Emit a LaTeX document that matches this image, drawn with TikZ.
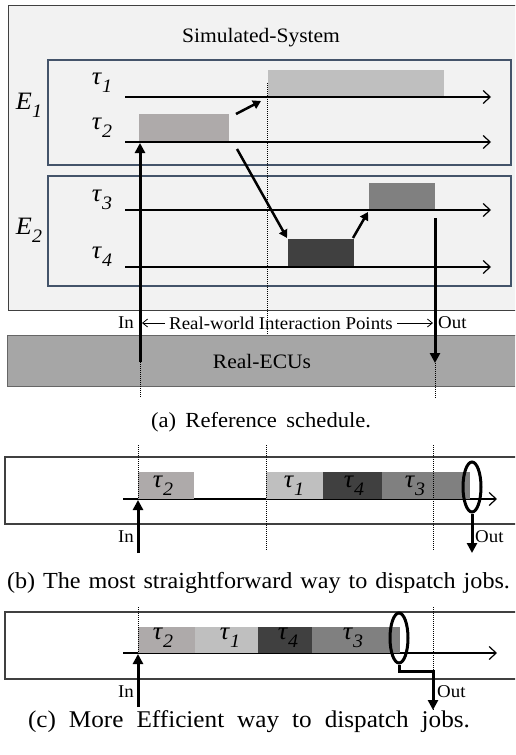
\documentclass[tikz,border=0pt]{standalone}
\usepackage{fontspec}
\setmainfont{Liberation Serif}[FakeStretch=1.05]
\usetikzlibrary{arrows.meta,shapes.geometric}
\definecolor{bgsys}{HTML}{F2F2F2}
\definecolor{eborder}{HTML}{44546A}
\definecolor{ecu}{HTML}{A6A6A6}
\definecolor{cone}{HTML}{BFBFBF}
\definecolor{ctwo}{HTML}{AEAAAA}
\definecolor{cthree}{HTML}{808080}
\definecolor{cfour}{HTML}{404040}
\newcommand{\tl}[2]{\textit{#1}\raisebox{-0.32em}{\fontsize{19}{19}\selectfont\textit{#2}}}
\newcommand{\capbox}[3]{\fontsize{#1}{#1}\selectfont\hbox to #2{\spaceskip=4pt plus 40pt\relax #3}}
\tikzset{
 lbl/.style={font=\fontsize{25}{26}\selectfont, inner sep=0pt},
 txt/.style={font=\fontsize{20.5}{22}\selectfont, inner sep=0pt},
 small/.style={font=\fontsize{18}{20}\selectfont, inner sep=0pt},
 capnode/.style={inner sep=0pt},
 bar/.style={fill=#1, draw=none, inner sep=0pt, anchor=north west},
 tline/.style={line width=1.2pt, -{Straight Barb[length=7pt,width=13pt]}},
 bigarrow/.style={line width=3pt, -{Triangle[length=10pt,width=10pt]}},
 linkarrow/.style={line width=2.5pt, -{Triangle[length=8pt,width=9pt]}},
 rwarrow/.style={line width=0.8pt, -{Straight Barb[length=5pt,width=8pt]}},
 vdots/.style={line width=0.9pt, dash pattern=on 1pt off 1pt},
 ebox/.style={draw=eborder, line width=2pt, fill=bgsys},
 pbox/.style={draw=black!75, line width=1.2pt},
 oval/.style={draw, ellipse, line width=3pt, minimum width=18pt, minimum height=50pt, inner sep=0pt},
}
\begin{document}
\begin{tikzpicture}[x=1pt,y=-1pt]
\useasboundingbox (0,0) rectangle (515,755);
\clip (0,0) rectangle (515,755);
% ---------------- panel (a) ----------------
\draw[fill=bgsys, draw=black!75, line width=1pt] (8,5) rectangle (530,310);
\node[txt] (sys) at (261,38) {Simulated-System};
\draw[ebox] (48,60) rectangle (511,165);
\draw[ebox] (48,176) rectangle (511,286);
\node[lbl] (e1) at (29,105) {\tl{E}{1}};
\node[lbl] (e2) at (29,230) {\tl{E}{2}};
\node[lbl] (l1) at (102,83) {\tl{τ}{1}};
\node[lbl] (l2) at (102,128) {\tl{τ}{2}};
\node[lbl] (l3) at (102,200) {\tl{τ}{3}};
\node[lbl] (l4) at (102,257) {\tl{τ}{4}};
\node[bar=cone, minimum width=176pt, minimum height=27pt] (a1) at (268,70) {};
\node[bar=ctwo, minimum width=90pt, minimum height=28pt] (a2) at (139,114) {};
\node[bar=cthree, minimum width=66pt, minimum height=27pt] (a3) at (369,183) {};
\node[bar=cfour, minimum width=66pt, minimum height=28pt] (a4) at (288,239) {};
\draw[tline] (125,97) -- (491,97);
\draw[tline] (125,142) -- (491,142);
\draw[tline] (125,210) -- (491,210);
\draw[tline] (125,267) -- (491,267);
\draw[vdots] (267.5,83) -- (267.5,336);
\coordinate (k1s) at (236,114); \coordinate (k1e) at (261,101);
\coordinate (k2s) at (237,149); \coordinate (k2e) at (287,238);
\coordinate (k3s) at (353,238); \coordinate (k3e) at (368,212);
\draw[linkarrow] (k1s) -- (k1e);
\draw[linkarrow] (k2s) -- (k2e);
\draw[linkarrow] (k3s) -- (k3e);
\draw[fill=ecu, draw=black!60, line width=1pt] (7,335) rectangle (530,386);
\node[txt] (ecus) at (262,361) {Real-ECUs};
\coordinate (inA) at (140,362); \coordinate (inAt) at (140,143);
\coordinate (outA) at (435,218); \coordinate (outAt) at (435,363);
\draw[bigarrow] (inA) -- (inAt);
\draw[bigarrow] (outA) -- (outAt);
\draw[vdots] (inA) -- (140,398);
\draw[vdots] (outAt) -- (435,398);
\node[small, anchor=east] (inlA) at (134,323) {In};
\node[small, anchor=west] (outlA) at (438,323) {Out};
\node[small] (rw) at (281,323) {Real-world Interaction Points};
\coordinate (rwl) at (142,323); \coordinate (rwr) at (433,323);
\draw[rwarrow] ([xshift=-4pt]rw.west) -- (rwl);
\draw[rwarrow] ([xshift=4pt]rw.east) -- (rwr);
\node[capnode] (capa) at (261,422) {\capbox{21.5pt}{220pt}{(a) Reference schedule.}};
% ---------------- panel (b) ----------------
\draw[pbox] (5,457) rectangle (530,524);
\draw[tline] (123,499) -- (497,499);
\node[bar=ctwo, minimum width=56pt, minimum height=27pt] (b2) at (138,472) {};
\node[bar=cone, minimum width=57pt, minimum height=27pt] (b1) at (266,472) {};
\node[bar=cfour, minimum width=59pt, minimum height=27pt] (b4) at (323,472) {};
\node[bar=cthree, minimum width=88pt, minimum height=27pt] (b3) at (382,472) {};
\node[lbl] (bl2) at (163,486) {\tl{τ}{2}};
\node[lbl] (bl1) at (294,486) {\tl{τ}{1}};
\node[lbl] (bl4) at (354,486) {\tl{τ}{4}};
\node[lbl] (bl3) at (415,486) {\tl{τ}{3}};
\draw[vdots] (138,445) -- (138,499);
\draw[vdots] (266,445) -- (266,550);
\draw[vdots] (433,445) -- (433,550);
\node[oval] (ovb) at (472,487) {};
\coordinate (inB) at (138,553); \coordinate (inBt) at (138,500);
\coordinate (outBt) at (472,553);
\draw[bigarrow] (inB) -- (inBt);
\draw[bigarrow] (ovb.south) -- (outBt);
\node[small, anchor=east] (inlB) at (134,537) {In};
\node[small, anchor=west] (outlB) at (475,537) {Out};
\node[capnode] (capb) at (258.5,583) {\capbox{23pt}{503pt}{(b) The most straightforward way to dispatch jobs.}};
% ---------------- panel (c) ----------------
\draw[pbox] (5,612) rectangle (530,679);
\draw[tline] (123,653) -- (497,653);
\node[bar=ctwo, minimum width=57pt, minimum height=26pt] (c2) at (138,627) {};
\node[bar=cone, minimum width=63pt, minimum height=26pt] (c1) at (195,627) {};
\node[bar=cfour, minimum width=54pt, minimum height=26pt] (c4) at (258,627) {};
\node[bar=cthree, minimum width=88pt, minimum height=26pt] (c3) at (312,627) {};
\node[lbl] (cl2) at (163,638) {\tl{τ}{2}};
\node[lbl] (cl1) at (230,638) {\tl{τ}{1}};
\node[lbl] (cl4) at (288,638) {\tl{τ}{4}};
\node[lbl] (cl3) at (353,638) {\tl{τ}{3}};
\draw[vdots] (138,607) -- (138,653);
\draw[vdots] (433,607) -- (433,710);
\node[oval] (ovc) at (399,638) {};
\coordinate (inC) at (138,707); \coordinate (inCt) at (138,654);
\coordinate (outCt) at (433,710);
\draw[bigarrow] (inC) -- (inCt);
\draw[bigarrow] (ovc.south) -- ++(0,7) -| (outCt);
\node[small, anchor=east] (inlC) at (134,692) {In};
\node[small, anchor=west] (outlC) at (437,692) {Out};
\node[capnode] (capc) at (249,722) {\capbox{24pt}{442pt}{(c) More Efficient way to dispatch jobs.}};
\end{tikzpicture}
\end{document}
